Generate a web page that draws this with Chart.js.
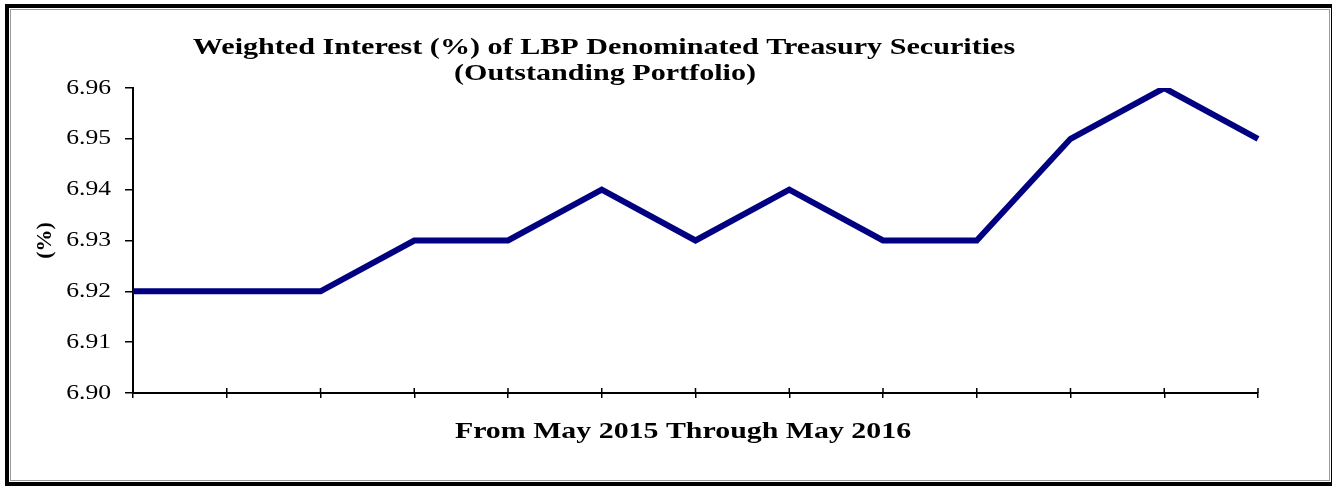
<!DOCTYPE html>
<html>
<head>
<meta charset="utf-8">
<script src="https://cdn.jsdelivr.net/npm/chart.js@4"></script>
<style>
  html, body { margin: 0; padding: 0; background: #fff; }
  #wrap { position: relative; width: 1332px; height: 486px; }
  #frame {
    position: absolute; left: 5px; top: 4px; width: 1322px; height: 474px;
    border-left: 4px solid #000; border-top: 4px solid #000;
    border-bottom: 4px solid #000; border-right: 1px solid #000;
    pointer-events: none;
  }
  #frame::after {
    content: ''; position: absolute; left: 1px; top: 1px; right: 1px; bottom: 1px;
    border: 1px solid #999;
  }
</style>
</head>
<body>
<div id="wrap">
  <canvas id="chart" width="1332" height="486"></canvas>
  <div id="frame"></div>
</div>
<script>
const months = ['May 2015', 'Jun 2015', 'Jul 2015', 'Aug 2015', 'Sep 2015', 'Oct 2015', 'Nov 2015',
  'Dec 2015', 'Jan 2016', 'Feb 2016', 'Mar 2016', 'Apr 2016', 'May 2016'];
const weightedInterest = [6.92, 6.92, 6.92, 6.93, 6.93, 6.94, 6.93, 6.94, 6.93, 6.93, 6.95, 6.96, 6.95];
const yTicks = [6.90, 6.91, 6.92, 6.93, 6.94, 6.95, 6.96];
const titleLines = ['Weighted Interest (%) of LBP Denominated Treasury Securities', '(Outstanding Portfolio)'];
const xTitle = 'From May 2015 Through May 2016';

const serif = '"Liberation Serif", "Times New Roman", serif';

// the original's text is a bit wider than plain Times, so stretch it sideways
function wideText(ctx, text, x, y, font, sx, align) {
  ctx.save();
  ctx.font = font;
  ctx.fillStyle = '#000';
  ctx.textBaseline = 'middle';
  ctx.textAlign = align;
  ctx.translate(x, y);
  ctx.scale(sx, 1);
  ctx.fillText(text, 0, 0);
  ctx.restore();
}

const textPlugin = {
  id: 'sheetText',
  afterDraw(chart) {
    const ctx = chart.ctx;
    const bold = 'bold 24px ' + serif;
    wideText(ctx, titleLines[0], 604, 48, bold, 1.255, 'center');
    wideText(ctx, titleLines[1], 605, 74, bold, 1.255, 'center');
    wideText(ctx, xTitle, 683, 432, bold, 1.245, 'center');

    const y = chart.scales.y;
    yTicks.forEach(v => {
      wideText(ctx, v.toFixed(2), 111, y.getPixelForValue(v), '21px ' + serif, 1.22, 'right');
    });

    // x tick marks cross the axis line
    const x = chart.scales.x;
    ctx.save();
    ctx.strokeStyle = '#000';
    ctx.lineWidth = 1.5;
    ctx.beginPath();
    for (let i = 0; i < x.ticks.length; i++) {
      const px = x.getPixelForTick(i);
      ctx.moveTo(px, x.top - 5);
      ctx.lineTo(px, x.top);
    }
    ctx.stroke();
    ctx.restore();
  }
};

new Chart(document.getElementById('chart'), {
  type: 'line',
  data: {
    labels: months,
    datasets: [{
      data: weightedInterest,
      borderColor: '#000080',
      borderWidth: 6,
      borderJoinStyle: 'miter',
      pointRadius: 0,
      tension: 0,
      fill: false
    }]
  },
  options: {
    responsive: false,
    animation: false,
    layout: { padding: { left: 0, top: 88, right: 74, bottom: 0 } },
    plugins: {
      legend: { display: false },
      tooltip: { enabled: false }
    },
    scales: {
      x: {
        offset: false,
        afterFit(scale) { scale.height = 93; },
        grid: { drawOnChartArea: false, tickLength: 5, color: '#000', lineWidth: 1.5 },
        border: { color: '#000', width: 2 },
        ticks: { display: false }
      },
      y: {
        min: 6.90,
        max: 6.96,
        afterFit(scale) { scale.width = 133; },
        afterBuildTicks(scale) { scale.ticks = yTicks.map(v => ({ value: v })); },
        grid: { drawOnChartArea: false, tickLength: 8, color: '#000', lineWidth: 1.5 },
        border: { color: '#000', width: 2 },
        ticks: { display: false },
        title: {
          display: true,
          text: '(%)',
          color: '#000',
          font: { family: serif, size: 22, weight: 'bold' },
          padding: { top: 32, bottom: 0 }
        }
      }
    }
  },
  plugins: [textPlugin]
});
</script>
</body>
</html>
